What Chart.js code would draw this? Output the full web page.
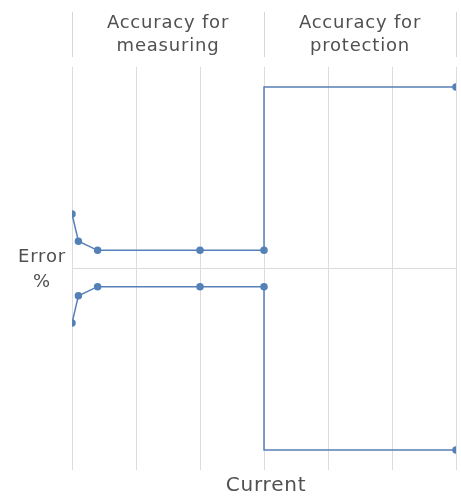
<!DOCTYPE html>
<html>
<head>
<meta charset="utf-8">
<script src="https://cdn.jsdelivr.net/npm/chart.js@4"></script>
<style>
  html, body { margin: 0; padding: 0; background: #fff; }
  #wrap { width: 461px; height: 496px; }
</style>
</head>
<body>
<div id="wrap"><canvas id="grafica"></canvas></div>
<script>
// current along the x axis (grid units), error % on the y axis
const corriente = [0, 0.1, 0.4, 2, 3, 3, 6];
const errorSup = [3, 1.5, 1, 1, 1, 10, 10];
const errorInf = [-3, -1.5, -1, -1, -1, -10, -10];
const conMarca = [true, true, true, true, true, false, true];
const zonas = ['Accuracy for|measuring', 'Accuracy for|protection'];
const limitesZonas = [0, 3, 6];
const tituloX = 'Current';
const tituloY = ['Error', '%'];

const azul = '#5580b8';
const gris = '#505050';
const fuente = '18px "DejaVu Sans", sans-serif';

const puntos = vals => corriente.map((x, i) => ({ x: x, y: vals[i] }));

// texts and header separators
const rotulos = {
    id: 'rotulos',
    afterDraw(chart) {
        const c = chart.ctx;
        const sx = chart.scales.x;
        const area = chart.chartArea;
        c.save();
        c.strokeStyle = '#d6d6d6';
        c.lineWidth = 1;
        limitesZonas.forEach(v => {
            const px = Math.round(sx.getPixelForValue(v)) + 0.5;
            c.beginPath();
            c.moveTo(px, 12);
            c.lineTo(px, 57);
            c.stroke();
        });
        c.fillStyle = gris;
        c.font = fuente;
        c.letterSpacing = '0.8px';
        c.textAlign = 'center';
        c.textBaseline = 'middle';
        zonas.forEach((z, i) => {
            const cx = (sx.getPixelForValue(limitesZonas[i]) + sx.getPixelForValue(limitesZonas[i + 1])) / 2;
            z.split('|').forEach((t, j) => c.fillText(t, cx, 23 + j * 23));
        });
        const y0 = chart.scales.y.getPixelForValue(0);
        c.fillText(tituloY[0], 42, y0 - 11);
        c.fillText(tituloY[1], 42, y0 + 14);
        c.font = '20px "DejaVu Sans", sans-serif';
        c.fillText(tituloX, (area.left + area.right) / 2 + 2, area.bottom + 16);
        c.restore();
    }
};

const estilo = {
    showLine: true,
    borderColor: azul,
    backgroundColor: azul,
    borderWidth: 1.5,
    pointRadius: ctx => conMarca[ctx.dataIndex] ? 3 : 0,
    pointHoverRadius: 0,
    tension: 0
};

let ctx = document.getElementById('grafica').getContext('2d');
new Chart(ctx, {
    type: 'scatter',
    data: {
        datasets: [
            Object.assign({ label: 'sup', data: puntos(errorSup) }, estilo),
            Object.assign({ label: 'inf', data: puntos(errorInf) }, estilo)
        ]
    },
    options: {
        responsive: true,
        maintainAspectRatio: false,
        animation: false,
        layout: { padding: { left: 72, right: 5, top: 67, bottom: 26 } },
        plugins: { legend: { display: false }, tooltip: { enabled: false } },
        scales: {
            x: {
                type: 'linear', min: 0, max: 6,
                ticks: { display: false, stepSize: 1 },
                grid: { color: '#dcdcdc', drawTicks: false, lineWidth: 1 },
                border: { display: false },
                afterFit: s => { s.height = 0; }
            },
            y: {
                type: 'linear', min: -11.1, max: 11.1,
                ticks: { display: false, stepSize: 11.1 },
                grid: { color: c => c.tick.value === 0 ? '#dcdcdc' : 'rgba(0,0,0,0)', drawTicks: false },
                border: { display: false },
                afterFit: s => { s.width = 0; }
            }
        }
    },
    plugins: [rotulos]
});
</script>
</body>
</html>
